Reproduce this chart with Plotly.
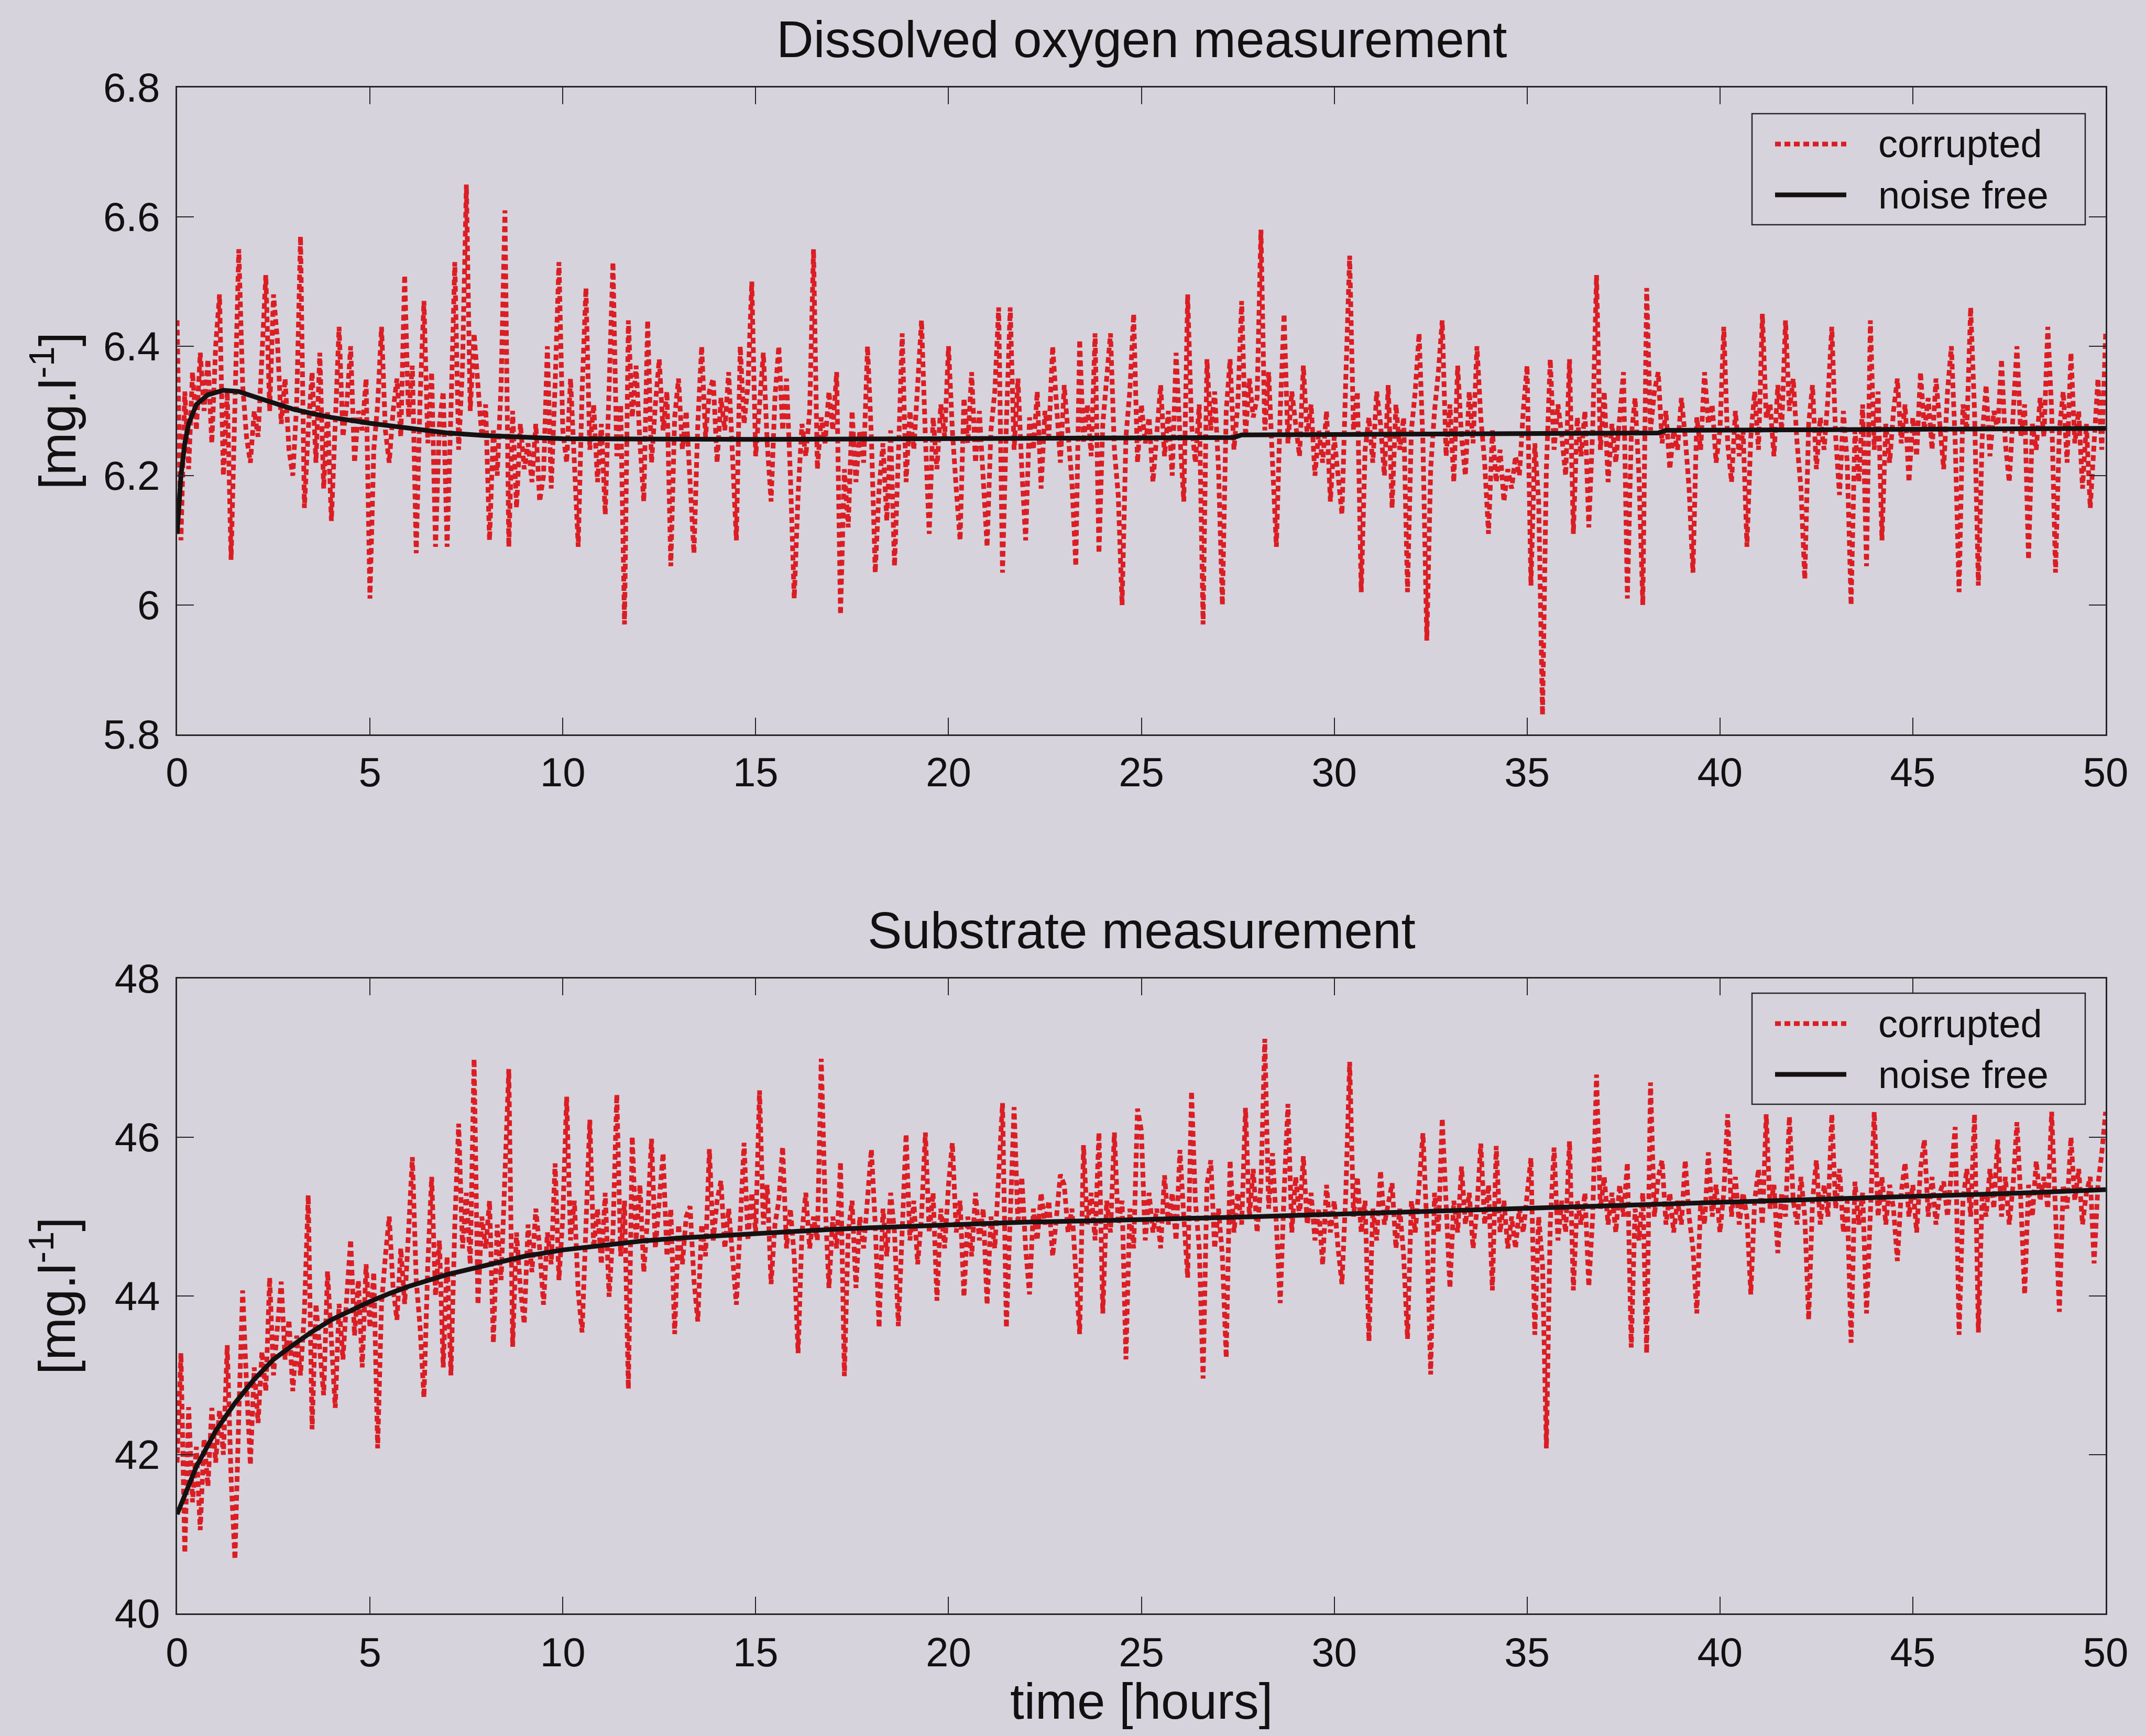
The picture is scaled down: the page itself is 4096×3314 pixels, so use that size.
import plotly.graph_objects as go

# Canvas and styling
W, H = 4096, 3314
BG = "#d6d3dc"
RED = "#db1d24"
BLACK = "#161111"
AXIS = "#262626"
TEXT = "#111111"
FONT = "Liberation Sans, Arial, Helvetica, sans-serif"

# Sampling grid of the measurements (every 6 minutes, 0..50 h)
hours = [i / 10 for i in range(501)]

x_ticks = [0, 5, 10, 15, 20, 25, 30, 35, 40, 45, 50]
x_tick_labels = ["0", "5", "10", "15", "20", "25", "30", "35", "40", "45", "50"]
do_ticks = [5.8, 6.0, 6.2, 6.4, 6.6, 6.8]
do_tick_labels = ["5.8", "6", "6.2", "6.4", "6.6", "6.8"]
sub_ticks = [40, 42, 44, 46, 48]
sub_tick_labels = ["40", "42", "44", "46", "48"]

# Dissolved oxygen, corrupted measurement [mg/l], one row per hour
do_corrupted = [
    6.44, 6.10, 6.33, 6.21, 6.36, 6.27, 6.39, 6.30, 6.38, 6.25,
    6.40, 6.48, 6.20, 6.33, 6.07, 6.30, 6.55, 6.34, 6.26, 6.22,
    6.30, 6.26, 6.38, 6.51, 6.30, 6.48, 6.41, 6.28, 6.35, 6.24,
    6.20, 6.31, 6.57, 6.15, 6.27, 6.36, 6.22, 6.39, 6.18, 6.30,
    6.13, 6.29, 6.43, 6.26, 6.31, 6.40, 6.22, 6.30, 6.27, 6.35,
    6.01, 6.24, 6.31, 6.43, 6.27, 6.22, 6.30, 6.35, 6.26, 6.51,
    6.29, 6.37, 6.08, 6.32, 6.47, 6.25, 6.36, 6.09, 6.28, 6.33,
    6.09, 6.30, 6.53, 6.24, 6.37, 6.65, 6.30, 6.42, 6.35, 6.26,
    6.31, 6.10, 6.27, 6.20, 6.34, 6.61, 6.09, 6.30, 6.15, 6.28,
    6.21, 6.25, 6.19, 6.28, 6.16, 6.20, 6.40, 6.18, 6.34, 6.53,
    6.27, 6.22, 6.35, 6.20, 6.09, 6.33, 6.49, 6.24, 6.31, 6.19,
    6.28, 6.14, 6.36, 6.53, 6.23, 6.31, 5.97, 6.44, 6.29, 6.37,
    6.25, 6.16, 6.44, 6.22, 6.31, 6.38, 6.27, 6.33, 6.06, 6.29,
    6.35, 6.24, 6.30, 6.19, 6.08, 6.28, 6.40, 6.26, 6.33, 6.35,
    6.22, 6.32, 6.27, 6.36, 6.24, 6.10, 6.40, 6.28, 6.34, 6.50,
    6.23, 6.31, 6.39, 6.25, 6.16, 6.32, 6.40, 6.27, 6.35, 6.20,
    6.01, 6.17, 6.28, 6.23, 6.30, 6.55, 6.21, 6.29, 6.25, 6.33,
    6.27, 6.36, 5.985, 6.21, 6.12, 6.30, 6.19, 6.27, 6.22, 6.40,
    6.26, 6.05, 6.18, 6.25, 6.13, 6.27, 6.06, 6.23, 6.42, 6.19,
    6.30, 6.24, 6.33, 6.44, 6.26, 6.11, 6.29, 6.21, 6.31, 6.26,
    6.40, 6.27, 6.18, 6.10, 6.32, 6.25, 6.36, 6.22, 6.30, 6.20,
    6.09, 6.27, 6.33, 6.46, 6.05, 6.28, 6.46, 6.24, 6.35, 6.21,
    6.10, 6.29, 6.24, 6.33, 6.18, 6.30, 6.26, 6.40, 6.31, 6.22,
    6.34, 6.27, 6.19, 6.06, 6.41, 6.25, 6.31, 6.23, 6.42, 6.08,
    6.28, 6.35, 6.42, 6.24, 6.17, 6.00, 6.26, 6.33, 6.45, 6.22,
    6.31, 6.25, 6.29, 6.19, 6.27, 6.34, 6.23, 6.30, 6.20, 6.39,
    6.26, 6.16, 6.48, 6.28, 6.22, 6.31, 5.97, 6.38, 6.27, 6.33,
    6.21, 6.00, 6.30, 6.38, 6.24, 6.31, 6.47, 6.26, 6.35, 6.29,
    6.32, 6.58, 6.27, 6.36, 6.22, 6.09, 6.30, 6.45, 6.25, 6.33,
    6.28, 6.23, 6.37, 6.26, 6.31, 6.20, 6.27, 6.22, 6.30, 6.16,
    6.26, 6.20, 6.14, 6.35, 6.54, 6.27, 6.33, 6.02, 6.24, 6.29,
    6.22, 6.33, 6.28, 6.20, 6.34, 6.15, 6.31, 6.24, 6.29, 6.02,
    6.27, 6.33, 6.42, 6.25, 5.945, 6.21, 6.30, 6.36, 6.44, 6.23,
    6.31, 6.19, 6.37, 6.26, 6.20, 6.33, 6.25, 6.40, 6.29, 6.22,
    6.11, 6.27, 6.19, 6.24, 6.16, 6.21, 6.18, 6.23, 6.20, 6.30,
    6.37, 6.03, 6.25, 6.16, 5.83, 6.21, 6.38, 6.24, 6.31, 6.26,
    6.20, 6.38, 6.11, 6.29, 6.23, 6.30, 6.12, 6.27, 6.51, 6.24,
    6.33, 6.19, 6.28, 6.22, 6.30, 6.36, 6.01, 6.26, 6.32, 6.20,
    6.00, 6.49, 6.27, 6.33, 6.36, 6.25, 6.30, 6.21, 6.27, 6.24,
    6.32, 6.26, 6.18, 6.05, 6.29, 6.24, 6.36, 6.28, 6.31, 6.22,
    6.27, 6.43, 6.25, 6.19, 6.30, 6.23, 6.27, 6.09, 6.26, 6.33,
    6.24, 6.45, 6.29, 6.31, 6.23, 6.34, 6.27, 6.44, 6.30, 6.35,
    6.25, 6.18, 6.04, 6.28, 6.34, 6.21, 6.29, 6.24, 6.32, 6.43,
    6.26, 6.17, 6.30, 6.22, 6.00, 6.27, 6.19, 6.31, 6.06, 6.44,
    6.24, 6.33, 6.10, 6.28, 6.22, 6.30, 6.35, 6.25, 6.31, 6.19,
    6.29, 6.23, 6.36, 6.27, 6.32, 6.24, 6.35, 6.28, 6.21, 6.33,
    6.40, 6.25, 6.02, 6.31, 6.27, 6.46, 6.30, 6.03, 6.26, 6.34,
    6.23, 6.30, 6.27, 6.38, 6.25, 6.19, 6.29, 6.40, 6.26, 6.31,
    6.07, 6.28, 6.24, 6.32, 6.26, 6.43, 6.30, 6.05, 6.27, 6.33,
    6.22, 6.39, 6.25, 6.30, 6.18, 6.28, 6.15, 6.26, 6.35, 6.24,
    6.42,
]

# Dissolved oxygen, noise-free trajectory
do_free_t = [0, 0.1, 0.2, 0.3, 0.5, 0.8, 1.2, 1.6, 2.0, 2.5, 3.0, 3.5, 4.0,
             5.0, 6.0, 7.0, 8.0, 9.0, 10.0, 15.0, 20.0, 25.0, 27.4, 27.6,
             30.0, 35.0, 38.4, 38.6, 42.0, 46.0, 50.0]
do_free = [6.11, 6.20, 6.25, 6.28, 6.31, 6.325, 6.332, 6.330, 6.322, 6.312,
           6.303, 6.296, 6.290, 6.281, 6.273, 6.266, 6.262, 6.259, 6.257,
           6.256, 6.257, 6.258, 6.259, 6.263, 6.264, 6.265, 6.266, 6.270,
           6.271, 6.272, 6.273]

# Substrate, corrupted measurement [mg/l], one row per hour
sub_corrupted = [
    41.9, 43.28, 40.76, 42.6, 41.4, 42.1, 41.05, 42.2, 41.6, 42.59,
    41.9, 42.56, 42.0, 43.38, 41.7, 40.68, 42.5, 44.07, 42.9, 41.87,
    43.1, 42.4, 43.3, 42.8, 44.23, 43.0, 43.6, 44.18, 43.2, 43.7,
    42.8, 43.5, 43.0, 43.8, 45.27, 42.32, 43.9, 43.3, 42.75, 44.31,
    43.4, 42.59, 43.9, 43.2, 44.0, 44.71, 43.5, 44.2, 43.1, 44.4,
    43.6, 44.3, 42.08, 43.9, 44.5, 45.0, 44.1, 43.7, 44.6, 43.9,
    44.8, 45.75, 44.2, 43.6, 42.72, 44.4, 45.5, 44.0, 44.7, 43.1,
    44.5, 43.0, 44.9, 46.17, 44.6, 45.3, 44.4, 46.99, 43.89, 45.0,
    44.6, 45.2, 43.41, 44.9, 44.2, 45.4, 46.86, 43.36, 44.8, 44.1,
    43.65, 44.9, 44.3, 45.1, 44.6, 43.89, 44.8, 44.4, 45.67, 44.2,
    45.0, 46.51, 44.7, 45.2, 44.05, 43.54, 44.9, 46.22, 44.6, 45.1,
    44.4, 45.3, 43.99, 44.8, 46.54, 44.5, 45.2, 42.83, 46.01, 44.7,
    45.4, 44.3, 45.0, 45.98, 44.6, 45.3, 45.8, 44.5, 45.1, 43.52,
    44.9, 44.4, 45.0, 45.13, 44.2, 43.68, 44.9, 44.5, 45.85, 44.7,
    45.2, 45.45, 44.6, 45.1, 44.4, 43.89, 44.9, 45.93, 44.7, 45.3,
    44.8, 46.59, 44.9, 45.4, 44.15, 44.9, 45.2, 45.88, 44.6, 45.1,
    44.5, 43.28, 44.8, 45.3, 44.6, 45.0, 44.7, 46.99, 45.2, 44.1,
    45.0, 44.6, 45.69, 42.99, 44.8, 45.2, 44.1, 45.0, 44.6, 45.3,
    45.85, 44.9, 43.6, 45.1, 44.5, 45.3, 44.8, 43.62, 44.9, 46.04,
    44.7, 45.2, 44.4, 45.0, 46.06, 44.8, 45.3, 43.94, 45.1, 44.6,
    45.4, 45.93, 44.8, 45.2, 43.99, 45.0, 44.5, 45.3, 44.7, 45.1,
    43.89, 45.0, 44.6, 45.4, 46.43, 43.6, 45.2, 46.38, 44.9, 45.5,
    44.6, 44.02, 45.1, 44.7, 45.3, 44.9, 45.2, 44.5, 45.0, 45.53,
    45.4, 44.8, 45.1, 44.4, 43.52, 45.9, 44.9, 45.3, 44.7, 46.06,
    43.78, 45.2, 44.8, 46.06, 44.9, 45.2, 43.2, 45.1, 44.6, 46.36,
    46.08, 44.7, 45.3, 44.8, 45.1, 44.6, 45.52, 44.9, 45.3, 44.7,
    45.84, 45.0, 44.23, 46.58, 45.2, 44.6, 42.96, 45.4, 45.71, 44.6,
    45.1, 44.5, 43.22, 45.71, 44.8, 45.3, 44.9, 46.37, 45.0, 45.6,
    44.8, 45.4, 47.24, 45.1, 45.8, 44.9, 43.91, 45.3, 46.42, 44.8,
    45.5, 45.0, 45.76, 44.9, 45.3, 44.7, 45.1, 44.39, 45.4, 44.8,
    45.2, 44.6, 44.15, 45.3, 46.95, 45.0, 45.5, 44.8, 45.2, 43.43,
    45.1, 44.7, 45.58, 44.9, 45.2, 45.42, 44.6, 45.1, 44.5, 43.46,
    45.2, 44.8, 45.4, 46.05, 44.9, 43.01, 45.3, 44.8, 46.24, 45.0,
    44.1, 45.2, 44.8, 45.63, 44.9, 45.3, 44.6, 45.1, 45.92, 44.9,
    45.4, 44.07, 45.89, 44.8, 45.2, 44.6, 45.0, 44.6, 45.1, 44.8,
    45.3, 45.74, 43.51, 45.0, 44.4, 42.08, 44.9, 45.87, 44.7, 45.2,
    44.8, 45.95, 44.07, 45.2, 44.9, 45.3, 44.12, 45.0, 46.79, 45.1,
    45.5, 44.9, 45.3, 44.8, 45.4, 45.0, 45.68, 43.35, 45.1, 44.7,
    45.3, 43.28, 46.69, 45.0, 45.5, 45.71, 44.9, 45.3, 44.8, 45.2,
    44.9, 45.71, 45.0, 44.6, 43.78, 45.2, 44.9, 45.81, 45.0, 45.4,
    44.8, 45.3, 46.29, 45.0, 45.5, 44.9, 45.3, 45.0, 44.02, 45.2,
    45.6, 44.9, 46.29, 45.1, 45.4, 44.54, 45.3, 45.0, 46.26, 45.2,
    44.9, 45.5, 45.0, 43.7, 45.2, 45.71, 44.9, 45.4, 45.0, 46.29,
    45.1, 45.6, 44.8, 45.2, 43.41, 45.44, 44.9, 45.3, 43.78, 45.2,
    46.32, 45.0, 45.5, 44.9, 45.4, 45.1, 44.44, 45.3, 45.68, 45.0,
    45.4, 44.8, 45.6, 45.97, 45.0, 45.5, 44.9, 45.3, 45.44, 45.0,
    45.6, 46.13, 43.51, 45.2, 45.6, 45.0, 46.29, 43.54, 45.3, 45.0,
    45.6, 45.1, 45.97, 45.0, 45.5, 44.9, 45.4, 46.19, 45.2, 44.02,
    45.4, 45.0, 45.7, 45.2, 45.5, 45.1, 46.32, 45.2, 43.8, 45.4,
    45.1, 46.0, 45.2, 45.6, 44.9, 45.3, 45.5, 44.41, 45.4, 45.8,
    46.32,
]

# Substrate, noise-free trajectory
sub_free_t = [0, 0.5, 1, 1.5, 2, 2.5, 3, 3.5, 4, 4.5, 5, 5.5, 6, 7, 8, 9, 10,
              11, 12, 13, 14, 15, 16, 17, 18, 19, 20, 22, 24, 26, 28, 30, 32,
              34, 36, 38, 40, 42, 44, 46, 48, 50]
sub_free = [41.25, 41.85, 42.3, 42.65, 42.95, 43.2, 43.38, 43.55, 43.7, 43.82,
            43.93, 44.03, 44.12, 44.27, 44.39, 44.5, 44.58, 44.64, 44.69,
            44.73, 44.76, 44.79, 44.82, 44.84, 44.86, 44.88, 44.9, 44.93,
            44.95, 44.97, 45.0, 45.03, 45.06, 45.08, 45.11, 45.15, 45.18,
            45.21, 45.24, 45.27, 45.3, 45.34]

panel_titles = ["Dissolved oxygen measurement", "Substrate measurement"]
y_title = "[mg.l<sup>-1</sup>]"
x_title = "time [hours]"
legend_labels = ["corrupted", "noise free"]


def fx(px):
    return px / W


def fy(px):
    return 1 - px / H


# Axes frames in pixels: left, right, top, bottom
LEFT, RIGHT = 338, 4019
TOP1, BOT1 = 167, 1402
TOP2, BOT2 = 1868, 3080

fig = go.Figure()
corrupted_line = dict(color=RED, width=9, dash="11px,7px")
free_line = dict(color=BLACK, width=9)

fig.add_trace(go.Scatter(x=hours, y=do_corrupted, mode="lines", line=corrupted_line,
                         xaxis="x", yaxis="y", name=legend_labels[0], showlegend=False))
fig.add_trace(go.Scatter(x=do_free_t, y=do_free, mode="lines", line=free_line,
                         xaxis="x", yaxis="y", name=legend_labels[1], showlegend=False))
fig.add_trace(go.Scatter(x=hours, y=sub_corrupted, mode="lines", line=corrupted_line,
                         xaxis="x2", yaxis="y2", name=legend_labels[0], showlegend=False))
fig.add_trace(go.Scatter(x=sub_free_t, y=sub_free, mode="lines", line=free_line,
                         xaxis="x2", yaxis="y2", name=legend_labels[1], showlegend=False))

axis_style = dict(
    showline=True, linecolor=AXIS, linewidth=3, mirror="ticks",
    ticks="inside", ticklen=32, tickwidth=2, tickcolor=AXIS,
    showgrid=False, zeroline=False, automargin=False,
    tickfont=dict(family=FONT, size=78, color=TEXT),
)

fig.update_layout(
    width=W, height=H,
    margin=dict(l=0, r=0, t=0, b=0, pad=0, autoexpand=False),
    paper_bgcolor=BG, plot_bgcolor=BG,
    showlegend=False,
    xaxis=dict(domain=[fx(LEFT), fx(RIGHT)], range=[0, 50], anchor="y",
               tickvals=x_ticks, ticktext=x_tick_labels, ticklabelstandoff=2, **axis_style),
    yaxis=dict(domain=[fy(BOT1), fy(TOP1)], range=[5.8, 6.8], anchor="x",
               tickvals=do_ticks, ticktext=do_tick_labels, ticklabelstandoff=14, **axis_style),
    xaxis2=dict(domain=[fx(LEFT), fx(RIGHT)], range=[0, 50], anchor="y2",
                tickvals=x_ticks, ticktext=x_tick_labels, ticklabelstandoff=4, **axis_style),
    yaxis2=dict(domain=[fy(BOT2), fy(TOP2)], range=[40, 48], anchor="x2",
                tickvals=sub_ticks, ticktext=sub_tick_labels, ticklabelstandoff=14, **axis_style),
)

annotations = []
shapes = []
cx = (LEFT + RIGHT) / 2
for title, top, bot in [(panel_titles[0], TOP1, BOT1), (panel_titles[1], TOP2, BOT2)]:
    annotations.append(dict(text=title, x=fx(cx), y=fy(top - 92), xref="paper", yref="paper",
                            xanchor="center", yanchor="middle", showarrow=False,
                            font=dict(family=FONT, size=98, color=TEXT)))
    annotations.append(dict(text=y_title, x=fx(102), y=fy((top + bot) / 2), xref="paper",
                            yref="paper", xanchor="center", yanchor="middle", textangle=-90,
                            showarrow=False, font=dict(family=FONT, size=98, color=TEXT)))

annotations.append(dict(text=x_title, x=fx(cx), y=fy(3247), xref="paper", yref="paper",
                        xanchor="center", yanchor="middle", showarrow=False,
                        font=dict(family=FONT, size=96, color=TEXT)))

# Legend boxes drawn inside each panel
for box_top in (217, 1896):
    shapes.append(dict(type="rect", xref="paper", yref="paper", layer="above",
                       x0=fx(3344), x1=fx(3980), y0=fy(box_top + 212), y1=fy(box_top),
                       line=dict(color=AXIS, width=2.5), fillcolor=BG))
    for k, (lbl, style) in enumerate(zip(legend_labels, [corrupted_line, free_line])):
        yy = box_top + 58 + 97 * k
        shapes.append(dict(type="line", xref="paper", yref="paper", layer="above",
                           x0=fx(3388), x1=fx(3524), y0=fy(yy), y1=fy(yy),
                           line=dict(color=style["color"], width=style["width"],
                                     dash=style.get("dash", "solid"))))
        annotations.append(dict(text=lbl, x=fx(3583), y=fy(yy), xref="paper", yref="paper",
                                xanchor="left", yanchor="middle", showarrow=False,
                                font=dict(family=FONT, size=74, color=TEXT)))

fig.update_layout(annotations=annotations, shapes=shapes)
fig.write_html("out.html")
